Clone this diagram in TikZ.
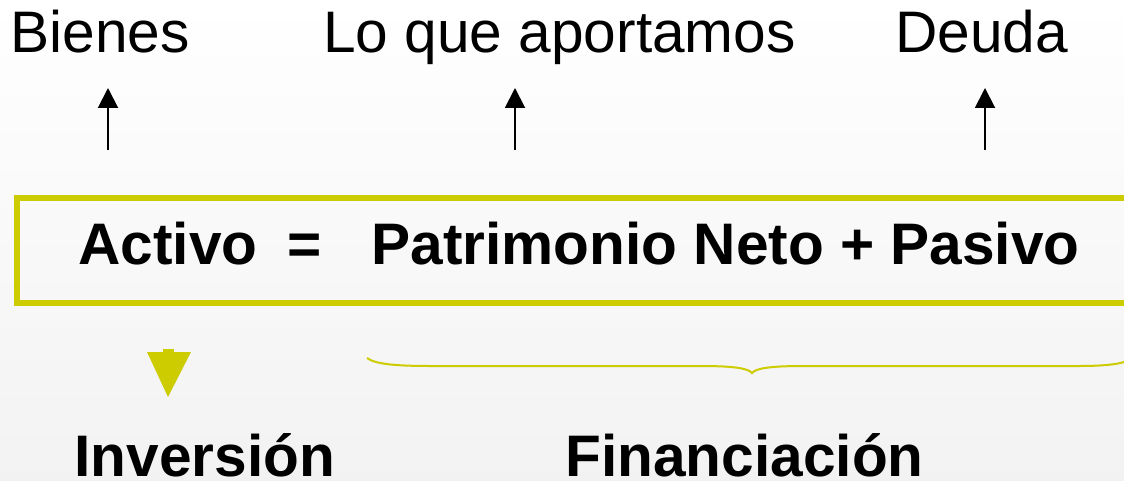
\documentclass[tikz,border=0pt]{standalone}
\usepackage{fontspec}
\setmainfont{Liberation Sans}
\usetikzlibrary{arrows.meta}
\definecolor{lima}{RGB}{204,204,0}
\tikzset{
  etiqueta/.style={anchor=base west, inner sep=0pt, font=\fontsize{29.3}{35}\selectfont},
  titulo/.style={anchor=base west, inner sep=0pt, font=\fontsize{29.3}{35}\selectfont\bfseries},
  flecha/.style={line width=1pt, -{Triangle[width=10pt,length=10pt]}}
}

\begin{document}
\begin{tikzpicture}[x=0.5pt,y=-0.5pt]
	\useasboundingbox (0,0) rectangle (1124,481);
	\clip (0,0) rectangle (1124,481);
	\shade[top color=white, bottom color=black!5] (0,0) rectangle (1124,481);

	% labels on top
	\node[etiqueta] (bienes) at (10,53) {Bienes};
	\node[etiqueta] (aportamos) at (323,53) {Lo que aportamos};
	\node[etiqueta] (deuda) at (895,53) {Deuda};

	\coordinate (pieB) at (108,150);  \coordinate (puntaB) at (108,88);
	\coordinate (pieA) at (515,150);  \coordinate (puntaA) at (515,88);
	\coordinate (pieD) at (985,150);  \coordinate (puntaD) at (985,88);
	\draw[flecha] (pieB) -- (puntaB);
	\draw[flecha] (pieA) -- (puntaA);
	\draw[flecha] (pieD) -- (puntaD);

	% the equation
	\draw[lima, line width=3pt] (17,198) rectangle (1140,303);
	\node[titulo] (activo) at (78,264) {Activo};
	\node[titulo, anchor=base] (igual) at (305,264) {=};
	\node[titulo] (resto) at (371,264) {Patrimonio Neto + Pasivo};

	% below
	\fill[lima] (163,349) rectangle (174,353);
	\fill[lima] (147,352) -- (191,352) -- (168,397) -- cycle;
	\draw[lima, line width=1pt] (367,358) .. controls (375,364) and (395,366) .. (430,366) -- (700,366)
		.. controls (732,366) and (748,368) .. (752,373)
		.. controls (756,368) and (772,366) .. (804,366) -- (1080,366)
		.. controls (1105,366) and (1118,364) .. (1124,362);

	\node[titulo] (inversion) at (74,476) {Inversión};
	\node[titulo] (financiacion) at (565,476) {Financiación};
\end{tikzpicture}
\end{document}
